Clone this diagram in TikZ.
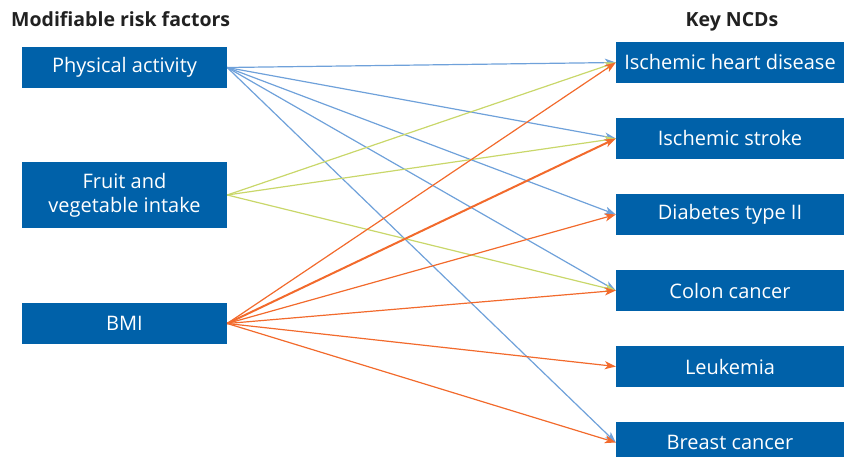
\documentclass[tikz,border=0pt]{standalone}
\usepackage{fontspec}
\setmainfont{Open Sans}
\usepackage{xcolor}
\usepackage{tikz}
\usetikzlibrary{arrows.meta}
\usetikzlibrary{positioning}

\definecolor{boxblue}{HTML}{0061A9}
\definecolor{pablue}{HTML}{6FA1DA}
\definecolor{fvgreen}{HTML}{C9D76A}
\definecolor{bmired}{HTML}{F26A2C}

\begin{document}
\begin{tikzpicture}[x=1pt,y=1pt,-{Stealth[length=11pt,width=8pt,inset=3pt]},node distance=76pt]
	\tikzstyle{box}=[draw=none, fill=boxblue, text=white, inner sep=0pt, align=center, font=\fontsize{20}{24}\selectfont]
	\tikzstyle{risk}=[box, minimum width=205pt, minimum height=41pt]
	\tikzstyle{ncd}=[box, minimum width=228pt, minimum height=41pt]
	\tikzstyle{title}=[inner sep=0pt, text=black!87, font=\fontsize{19.5}{23}\selectfont\bfseries]
	\useasboundingbox (0,0) rectangle (848,-457);

	\node[title, anchor=base west] (T1) at (11,-27) {Modifiable risk factors};
	\node[title, anchor=base] (T2) at (732,-27) {Key NCDs};

	\node[risk] (P) at (124.5,-67.5) {Physical activity};
	\node[risk, minimum height=66pt] (F) [below of=P, node distance=127.5pt] {Fruit and\\vegetable intake};
	\node[risk] (B) [below of=F, node distance=128.5pt] {BMI};

	\node[ncd] (1) at (730,-62.5) {Ischemic heart disease};
	\node[ncd] (2) [below of=1] {Ischemic stroke};
	\node[ncd] (3) [below of=2] {Diabetes type II};
	\node[ncd] (4) [below of=3] {Colon cancer};
	\node[ncd] (5) [below of=4] {Leukemia};
	\node[ncd] (6) [below of=5] {Breast cancer};

		\foreach \j in {1,2,3,4,6}{
			\draw[pablue, line width=1.2pt] (P.east) -- (\j.west);
			}
		\foreach \j in {1,2,4}{
			\draw[fvgreen, line width=1.2pt] (F.east) -- (\j.west);
			}
		\foreach \j in {1,3,4,5,6}{
			\draw[bmired, line width=1.2pt] (B.east) -- (\j.west);
			}
		\draw[bmired, line width=2pt] (B.east) -- (2.west);
\end{tikzpicture}
\end{document}
